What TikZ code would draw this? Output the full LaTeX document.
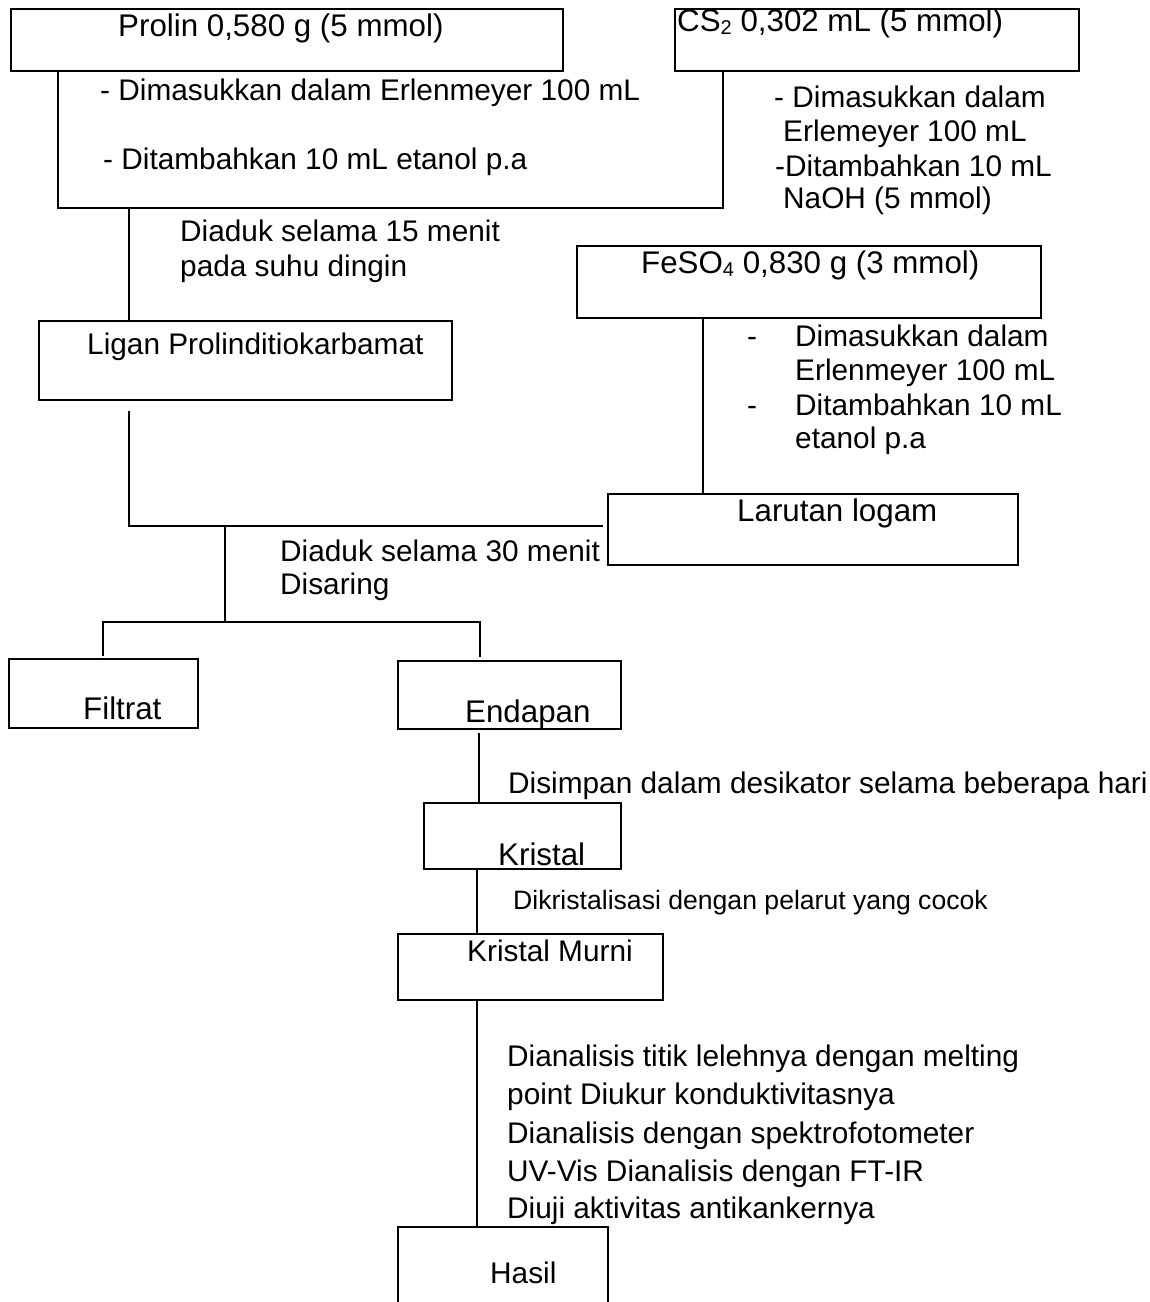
\documentclass[tikz,border=0pt]{standalone}
\usepackage{fontspec}
\setmainfont{Liberation Sans}
\newcommand\mysub[1]{\raisebox{-0.12em}{\fontsize{20}{20}\selectfont #1}}
\begin{document}
\begin{tikzpicture}[x=1pt,y=-1pt,
 box/.style={draw, line width=2pt, rectangle, inner sep=0pt, outer sep=0pt, anchor=north west},
 txt/.style={inner sep=0pt, anchor=base west, font=\fontsize{29.8}{35}\selectfont},
 big/.style={txt, font=\fontsize{31.3}{37}\selectfont},
 sml/.style={txt, font=\fontsize{26.6}{31}\selectfont},
 con/.style={draw, line width=1.8pt}]
\useasboundingbox (0,0) rectangle (1150,1302);
\fill[white] (0,0) rectangle (1150,1302);
\clip (0,0) rectangle (1150,1302);

% boxes
\node[box, minimum width=552pt, minimum height=62pt] (prolin) at (11,9) {};
\node[box, minimum width=404pt, minimum height=62pt] (cs) at (675,9) {};
\node[box, minimum width=413pt, minimum height=79pt] (ligan) at (39,321) {};
\node[box, minimum width=464pt, minimum height=72pt] (feso) at (577,246) {};
\node[box, minimum width=410pt, minimum height=71pt] (larutan) at (608,494) {};
\node[box, minimum width=189pt, minimum height=69pt] (filtrat) at (9,659) {};
\node[box, minimum width=223pt, minimum height=68pt] (endapan) at (398,661) {};
\node[box, minimum width=197pt, minimum height=66pt] (kristal) at (424,803) {};
\node[box, minimum width=265pt, minimum height=66pt] (murni) at (398,934) {};
\node[box, minimum width=210pt, minimum height=130pt] (hasil) at (398,1227) {};

% box labels
\node[big] (tprolin) at (118,36) {Prolin 0,580 g (5 mmol)};
\node[big] (tcs) at (677,31) {CS\mysub{2} 0,302 mL (5 mmol)};
\node[txt] (tligan) at (87,354) {Ligan Prolinditiokarbamat};
\node[big] (tfeso) at (641,273) {FeSO\mysub{4} 0,830 g (3 mmol)};
\node[big] (tlarutan) at (737,521) {Larutan logam};
\node[big] (tfiltrat) at (83,719) {Filtrat};
\node[big] (tendapan) at (465,722) {Endapan};
\node[big] (tkristal) at (498,865) {Kristal};
\node[txt] (tmurni) at (467,961) {Kristal Murni};
\node[txt] (thasil) at (490,1283) {Hasil};

% step texts
\node[txt] (p1) at (100,100) {- Dimasukkan dalam Erlenmeyer 100 mL};
\node[txt] (p2) at (103,169) {- Ditambahkan 10 mL etanol p.a};
\node[txt] (c1) at (774,107) {- Dimasukkan dalam};
\node[txt] (c2) at (783,141) {Erlemeyer 100 mL};
\node[txt] (c3) at (775,176) {-Ditambahkan 10 mL};
\node[txt] (c4) at (783,208) {NaOH (5 mmol)};
\node[txt] (d1) at (180,241) {Diaduk selama 15 menit};
\node[txt] (d2) at (180,276) {pada suhu dingin};
\node[txt] (fd1) at (747,346) {-};
\node[txt] (f1) at (795,346) {Dimasukkan dalam};
\node[txt] (f2) at (795,380) {Erlenmeyer 100 mL};
\node[txt] (fd2) at (747,415) {-};
\node[txt] (f3) at (795,415) {Ditambahkan 10 mL};
\node[txt] (f4) at (795,448) {etanol p.a};
\node[txt] (e1) at (280,561) {Diaduk selama 30 menit};
\node[txt] (e2) at (280,594) {Disaring};
\node[txt] (s1) at (508,793) {Disimpan dalam desikator selama beberapa hari};
\node[sml] (k1) at (513,909) {Dikristalisasi dengan pelarut yang cocok};
\node[txt] (a1) at (507,1066) {Dianalisis titik lelehnya dengan melting};
\node[txt] (a2) at (507,1104) {point Diukur konduktivitasnya};
\node[txt] (a3) at (507,1143) {Dianalisis dengan spektrofotometer};
\node[txt] (a4) at (507,1181) {UV-Vis Dianalisis dengan FT-IR};
\node[txt] (a5) at (507,1218) {Diuji aktivitas antikankernya};

% connector points
\coordinate (bl) at (58,208);
\coordinate (br) at (723,208);
\coordinate (bm) at (129,208);
\coordinate (lb) at (129,411);
\coordinate (jl) at (129,526);
\coordinate (jm) at (225,526);
\coordinate (jr) at (603,526);
\coordinate (sj) at (225,622);
\coordinate (sl) at (103,622);
\coordinate (sr) at (480,622);
\coordinate (slb) at (103,656);
\coordinate (srb) at (480,657);
\coordinate (fx) at (703,0);
\coordinate (eb) at (479,733);
\coordinate (kx) at (477,0);

% connectors
\draw[con] (prolin.south -| bl) -- (bl) -- (br) -- (cs.south -| br);
\draw[con] (bm) -- (ligan.north -| bm);
\draw[con] (lb) -- (jl) -- (jr);
\draw[con] (jm) -- (sj);
\draw[con] (slb) -- (sl) -- (sr) -- (srb);
\draw[con] (feso.south -| fx) -- (larutan.north -| fx);
\draw[con] (eb) -- (kristal.north -| eb);
\draw[con] (kristal.south -| kx) -- (murni.north -| kx);
\draw[con] (murni.south -| kx) -- (hasil.north -| kx);
\end{tikzpicture}
\end{document}
